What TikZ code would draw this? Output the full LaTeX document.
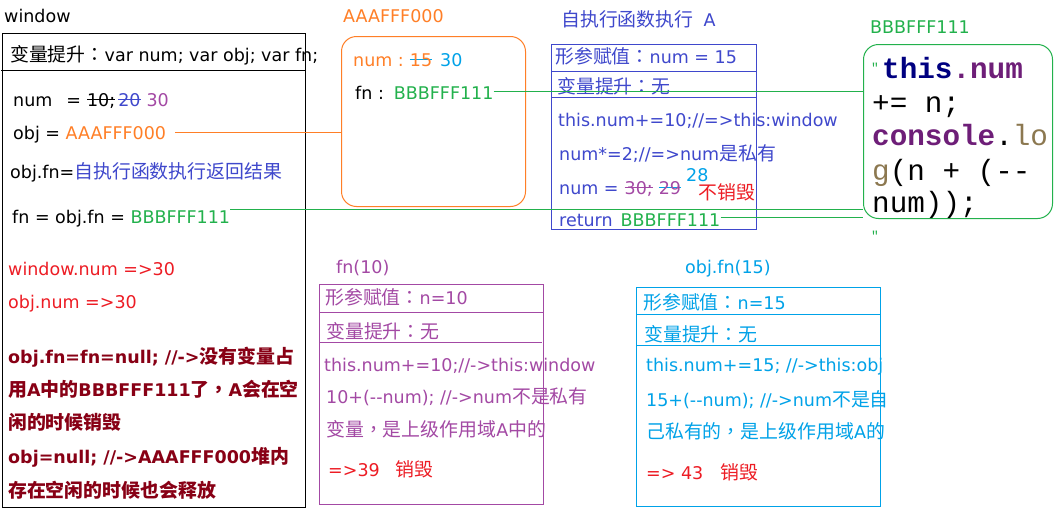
\documentclass[tikz,border=0pt]{standalone}
\usepackage{fontspec}
\setmainfont{DejaVu Sans}
\newfontfamily\cjkf{Noto Sans CJK SC}[Scale=1.08]
\newfontfamily\cjkt{Noto Sans CJK TC}[Scale=1.08]
\newfontfamily\monof{Liberation Mono}
\newcommand\zh[1]{{\cjkf #1}}
\newcommand\pz[1]{{\cjkt #1}}
\newcommand\strk[2]{\begingroup\setbox0\hbox{#2}\rlap{\color{#1}\rule[0.33em]{\wd0}{0.9pt}}\box0\endgroup}
\definecolor{cOr}{RGB}{255,127,39}
\definecolor{cGr}{RGB}{34,177,76}
\definecolor{cIn}{RGB}{63,72,204}
\definecolor{cPu}{RGB}{163,73,164}
\definecolor{cCy}{RGB}{0,162,232}
\definecolor{cRe}{RGB}{237,28,36}
\definecolor{cDr}{RGB}{136,0,21}
\definecolor{cNavy}{RGB}{0,0,128}
\definecolor{cCodePu}{RGB}{110,30,120}
\definecolor{cTan}{RGB}{140,120,80}
\tikzset{
  tx/.style={inner sep=0pt, anchor=base west, font=\fontsize{17.5}{21}\selectfont},
  btx/.style={tx, font=\fontsize{17.5}{21}\selectfont\bfseries, text=cDr},
  frame/.style={draw, line width=1pt, anchor=north west, inner sep=0pt},
  link/.style={line width=1pt},
  codetx/.style={inner sep=0pt, anchor=base west, font=\monof\fontsize{29.3}{33}\selectfont},
  quotetx/.style={inner sep=0pt, anchor=base west, font=\monof\fontsize{13}{15}\selectfont, text=cGr},
}
\begin{document}
\begin{tikzpicture}[x=1pt,y=-1pt]
\useasboundingbox[fill=white] (0,0) rectangle (1061,514);

% ---------- window ----------
\node[tx] (wlab) at (4,23) {window};
\node[frame, minimum width=303pt, minimum height=474pt] (win) at (2,33) {};
\draw[line width=1pt] (1,70) -- (win.east |- 0,70);
\node[tx] (whd) at (10,61) {\zh{变量提升}\pz{：}var num; var obj; var fn;};
\node[tx] (wnum) at (13,106) {num\hspace{14pt}=\hspace{6pt}\strk{black}{10;}\hspace{3pt}\strk{cIn}{\textcolor{cIn}{20}}\hspace{6pt}\textcolor{cPu}{30}};
\node[tx] (wobj) at (13,139) {obj = \textcolor{cOr}{AAAFFF000}};
\node[tx] (wfn1) at (10,178) {obj.fn=\textcolor{cIn}{\zh{自执行函数执行返回结果}}};
\node[tx] (wfn2) at (12,223) {fn = obj.fn = \textcolor{cGr}{BBBFFF111}};
\node[tx, text=cRe] (wn1) at (8,275) {window.num =>30};
\node[tx, text=cRe] (wn2) at (8,308) {obj.num =>30};
\node[btx] (b1) at (8,363) {obj.fn=fn=null; //->\zh{没有变量占}};
\node[btx] (b2) at (8,396) {\zh{用}A\zh{中的}BBBFFF111\zh{了}\pz{，}A\zh{会在空}};
\node[btx] (b3) at (8,429) {\zh{闲的时候销毁}};
\node[btx] (b4) at (8,463) {obj=null; //->AAAFFF000\zh{堆内}};
\node[btx] (b5) at (8,497) {\zh{存在空闲的时候也会释放}};

% ---------- AAAFFF000 ----------
\node[tx, text=cOr] (alab) at (343,23) {AAAFFF000};
\node[frame, draw=cOr, rounded corners=15pt, minimum width=184pt, minimum height=170pt] (aaa) at (341,36) {};
\node[tx] (anum) at (353,66) {\textcolor{cOr}{num :\hspace{6pt}\strk{cCy}{15}}\hspace{8pt}\textcolor{cCy}{30}};
\node[tx] (afn) at (355,99) {fn :\hspace{10pt}\textcolor{cGr}{BBBFFF111}};

% ---------- A ----------
\node[tx, text=cIn] (atitle) at (561,26) {\zh{自执行函数执行}\hspace{10pt}A};
\node[frame, draw=cIn, minimum width=205pt, minimum height=185pt] (boxA) at (551,44) {};
\draw[cIn, line width=1pt] (boxA.west |- 0,71) -- (boxA.east |- 0,71);
\draw[cIn, line width=1pt] (boxA.west |- 0,97) -- (boxA.east |- 0,97);
\node[tx, text=cIn] (a1) at (555,63) {\zh{形参赋值}\pz{：}num = 15};
\node[tx, text=cIn] (a2) at (557,93) {\zh{变量提升}\pz{：}\zh{无}};
\node[tx, text=cIn] (a3) at (558,126) {this.num+=10;//=>this:window};
\node[tx, text=cIn] (a4) at (559,160) {num*=2;//=>num\zh{是私有}};
\node[tx, text=cIn] (a5) at (559,194) {num =\hspace{6pt}\strk{cPu}{\textcolor{cPu}{30;}}\hspace{6pt}\strk{cCy}{\textcolor{cPu}{29}}};
\node[tx, text=cCy] (a28) at (686,181) {28};
\node[tx, text=cRe] (a6) at (698,199) {\zh{不销毁}};
\node[tx, text=cIn] (a7) at (559,226) {return\hspace{8pt}\textcolor{cGr}{BBBFFF111}};

% ---------- BBBFFF111 ----------
\node[tx, text=cGr] (clab) at (870,33) {BBBFFF111};
\node[frame, draw=cGr, rounded corners=15pt, minimum width=189pt, minimum height=174pt] (code) at (863,44) {};
\node[quotetx] (q1) at (871,72) {"};
\node[codetx] (c1) at (882,78) {\bfseries\textcolor{cNavy}{this}\textcolor{cCodePu}{.num}};
\node[codetx] (c2) at (872,112) {+= n;};
\node[codetx] (c3) at (872,145) {\textcolor{cCodePu}{\bfseries console}.\textcolor{cTan}{lo}};
\node[codetx] (c4) at (872,180) {\textcolor{cTan}{g}(n + (-{}-};
\node[codetx] (c5) at (872,212) {num));};
\node[quotetx] (q2) at (871,240) {"};

% ---------- connectors ----------
\draw[cOr, link] ([xshift=9pt,yshift=2pt]wobj.east) -- ([yshift=2pt]wobj.east -| aaa.west);
\draw[cGr, link] ([yshift=9pt]wfn2.east) -- ([yshift=9pt]wfn2.east -| code.west);
\draw[cGr, link] ([yshift=1pt]afn.east) -- ([yshift=1pt]afn.east -| code.west);
\draw[cGr, link] ([yshift=2pt]a7.east) -- ([yshift=2pt]a7.east -| code.west);

% ---------- fn(10) ----------
\node[tx, text=cPu] (flab) at (336,273) {fn(10)};
\node[frame, draw=cPu, minimum width=224pt, minimum height=220pt] (f10) at (319,284) {};
\draw[cPu, line width=1pt] (f10.west |- 0,312) -- (f10.east |- 0,312);
\draw[cPu, line width=1pt] (f10.west |- 0,342) -- ([xshift=-2pt]f10.east |- 0,342);
\node[tx, text=cPu] (f1) at (325,304) {\zh{形参赋值}\pz{：}n=10};
\node[tx, text=cPu] (f2) at (326,338) {\zh{变量提升}\pz{：}\zh{无}};
\node[tx, text=cPu] (f3) at (324,371) {this.num+=10;//->this:window};
\node[tx, text=cPu] (f4) at (326,403) {10+(-{}-num); //->num\zh{不是私有}};
\node[tx, text=cPu] (f5) at (326,436) {\zh{变量}\pz{，}\zh{是上级作用域}A\zh{中的}};
\node[tx, text=cRe] (f6) at (328,476) {=>39};
\node[tx, text=cRe] (f7) at (395,476) {\zh{销毁}};

% ---------- obj.fn(15) ----------
\node[tx, text=cCy] (olab) at (685,273) {obj.fn(15)};
\node[frame, draw=cCy, minimum width=244pt, minimum height=219pt] (o15) at (636,287) {};
\draw[cCy, line width=1pt] (o15.west |- 0,314) -- (o15.east |- 0,314);
\draw[cCy, line width=1pt] (o15.west |- 0,345) -- (o15.east |- 0,345);
\node[tx, text=cCy] (o1) at (643,309) {\zh{形参赋值}\pz{：}n=15};
\node[tx, text=cCy] (o2) at (644,341) {\zh{变量提升}\pz{：}\zh{无}};
\node[tx, text=cCy] (o3) at (646,371) {this.num+=15; //->this:obj};
\node[tx, text=cCy] (o4) at (646,406) {15+(-{}-num); //->num\zh{不是自}};
\node[tx, text=cCy] (o5) at (646,438) {\zh{己私有的}\pz{，}\zh{是上级作用域}A\zh{的}};
\node[tx, text=cRe] (o6) at (646,479) {=> 43};
\node[tx, text=cRe] (o7) at (720,479) {\zh{销毁}};
\end{tikzpicture}
\end{document}
